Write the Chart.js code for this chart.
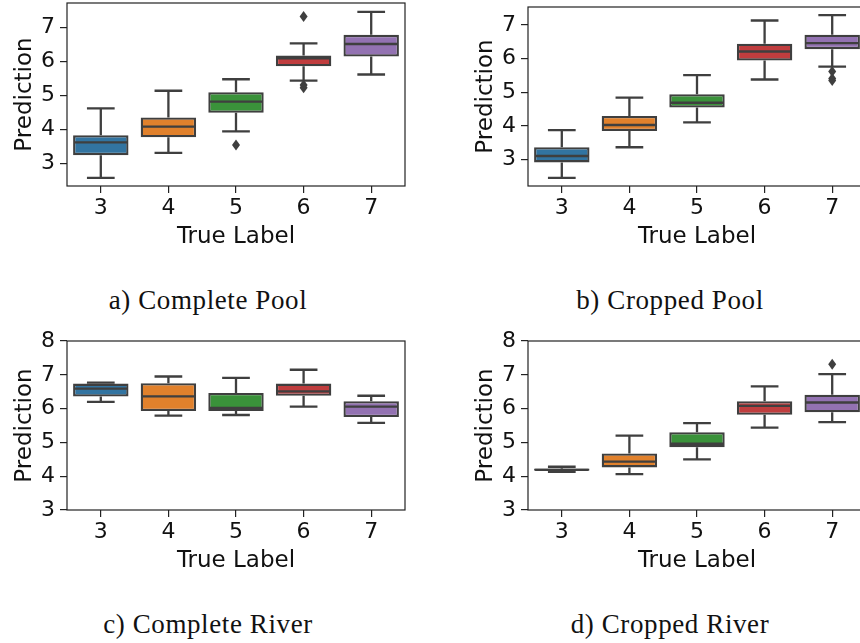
<!DOCTYPE html>
<html>
<head>
<meta charset="utf-8">
<script src="https://cdn.jsdelivr.net/npm/chart.js@4.4.1/dist/chart.umd.min.js"></script>
<style>
  html, body { margin: 0; padding: 0; background: #fff; }
  #page { position: relative; width: 860px; height: 643px; overflow: hidden; }
  #page canvas { position: absolute; }
  .cap {
    position: absolute; width: 320px; text-align: center;
    font-family: 'Liberation Serif', serif; font-size: 27px; line-height: 30px;
    letter-spacing: 0.6px; color: #111; white-space: nowrap;
  }
</style>
</head>
<body>
<div id="page">
  <canvas id="poolFull" width="420" height="260" style="left:0;top:0"></canvas>
  <canvas id="poolCrop" width="420" height="260" style="left:461px;top:0"></canvas>
  <canvas id="riverFull" width="420" height="264" style="left:0;top:320px"></canvas>
  <canvas id="riverCrop" width="420" height="264" style="left:461px;top:320px"></canvas>
  <div class="cap" style="left:48px;top:285px">a) Complete Pool</div>
  <div class="cap" style="left:510px;top:285px">b) Cropped Pool</div>
  <div class="cap" style="left:48px;top:609px">c) Complete River</div>
  <div class="cap" style="left:510px;top:609px">d) Cropped River</div>
</div>
<script>
const categories = ['3', '4', '5', '6', '7'];
const ticksPool = [3, 4, 5, 6, 7];
const ticksRiver = [3, 4, 5, 6, 7, 8];

// a) Complete Pool
const poolFullLow = [2.57, 3.31, 3.94, 5.44, 5.62];
const poolFullQ1 = [3.24, 3.77, 4.49, 5.86, 6.15];
const poolFullMed = [3.62, 4.08, 4.82, 6.10, 6.52];
const poolFullQ3 = [3.83, 4.35, 5.10, 6.18, 6.79];
const poolFullHigh = [4.62, 5.14, 5.48, 6.54, 7.47];
const poolFullOut = [[], [], [3.54], [7.33, 5.31, 5.23], []];

// b) Cropped Pool
const poolCropLow = [2.46, 3.37, 4.11, 5.38, 5.76];
const poolCropQ1 = [2.92, 3.85, 4.55, 5.94, 6.28];
const poolCropMed = [3.11, 4.03, 4.69, 6.21, 6.46];
const poolCropQ3 = [3.37, 4.30, 4.94, 6.44, 6.71];
const poolCropHigh = [3.88, 4.84, 5.51, 7.13, 7.29];
const poolCropOut = [[], [], [], [], [5.62, 5.41, 5.35]];

// c) Complete River
const riverFullLow = [6.20, 5.79, 5.81, 6.06, 5.58];
const riverFullQ1 = [6.36, 5.93, 5.93, 6.38, 5.75];
const riverFullMed = [6.59, 6.36, 6.02, 6.51, 6.06];
const riverFullQ3 = [6.74, 6.75, 6.46, 6.74, 6.22];
const riverFullHigh = [6.77, 6.95, 6.91, 7.15, 6.38];
const riverFullOut = [[], [], [], [], []];

// d) Cropped River
const riverCropLow = [4.13, 4.06, 4.50, 5.44, 5.60];
const riverCropQ1 = [4.16, 4.26, 4.86, 5.82, 5.89];
const riverCropMed = [4.19, 4.43, 4.96, 6.08, 6.18];
const riverCropQ3 = [4.23, 4.67, 5.30, 6.22, 6.41];
const riverCropHigh = [4.28, 5.20, 5.57, 6.66, 7.02];
const riverCropOut = [[], [], [], [], [7.31]];

const BOX_COLORS = ['#3274a1', '#e1812c', '#3a923a', '#c03d3e', '#9372b2'];
const LINE = '#3f3f3f';
const INK = '#111111';
const SANS = "'DejaVu Sans', sans-serif";

Chart.defaults.font.family = SANS;
Chart.defaults.color = INK;

// whiskers, caps, medians, outliers and the axes frame
function boxParts(s) {
  return {
    id: 'boxParts',
    afterDatasetsDraw(chart) {
      const { ctx, chartArea: a } = chart;
      const y = chart.scales.y;
      const meta = chart.getDatasetMeta(0);
      ctx.save();
      ctx.strokeStyle = LINE;
      ctx.fillStyle = LINE;
      ctx.lineWidth = 2.3;
      meta.data.forEach((bar, i) => {
        const cx = bar.x;
        const half = bar.width / 2;
        const cap = bar.width / 4;
        const pLow = y.getPixelForValue(s.low[i]);
        const pHigh = y.getPixelForValue(s.high[i]);
        const pQ1 = y.getPixelForValue(s.q1[i]);
        const pQ3 = y.getPixelForValue(s.q3[i]);
        const pMed = y.getPixelForValue(s.med[i]);
        ctx.beginPath();
        ctx.moveTo(cx, pQ3); ctx.lineTo(cx, pHigh);
        ctx.moveTo(cx, pQ1); ctx.lineTo(cx, pLow);
        ctx.moveTo(cx - cap, pHigh); ctx.lineTo(cx + cap, pHigh);
        ctx.moveTo(cx - cap, pLow); ctx.lineTo(cx + cap, pLow);
        ctx.moveTo(cx - half + 1, pMed); ctx.lineTo(cx + half - 1, pMed);
        ctx.stroke();
        s.out[i].forEach((v) => {
          const py = y.getPixelForValue(v);
          ctx.beginPath();
          ctx.moveTo(cx, py - 5.5);
          ctx.lineTo(cx + 4, py);
          ctx.lineTo(cx, py + 5.5);
          ctx.lineTo(cx - 4, py);
          ctx.closePath();
          ctx.fill();
        });
      });
      ctx.lineWidth = 1.2;
      ctx.strokeStyle = '#222';
      ctx.strokeRect(a.left, a.top, a.right - a.left, a.bottom - a.top);
      ctx.restore();
    },
  };
}

function createBoxPanel(id, s, yMin, yMax, yTicks, padTop) {
  const ctx = document.getElementById(id);
  return new Chart(ctx, {
    type: 'bar',
    data: {
      labels: categories,
      datasets: [
        {
          data: s.q1.map((v, i) => [v, s.q3[i]]),
          backgroundColor: BOX_COLORS,
          borderColor: LINE,
          borderWidth: 2.3,
          borderSkipped: false,
          barPercentage: 0.82,
          categoryPercentage: 1.0,
        },
      ],
    },
    options: {
      responsive: false,
      animation: false,
      devicePixelRatio: 1,
      layout: { padding: { top: padTop, right: 15, left: 0, bottom: 0 } },
      plugins: { legend: { display: false }, tooltip: { enabled: false } },
      scales: {
        x: {
          type: 'category',
          offset: true,
          afterFit: (sc) => { sc.height = 74; sc.paddingLeft = 0; sc.paddingRight = 0; },
          grid: { offset: false, drawOnChartArea: false, drawTicks: true, tickLength: 7, color: '#222', lineWidth: 1.2 },
          border: { display: false },
          ticks: { font: { size: 22 }, color: INK, padding: 2, maxRotation: 0 },
          title: { display: true, text: 'True Label', font: { size: 23 }, color: INK, padding: { top: 0, bottom: 9 } },
        },
        y: {
          type: 'linear',
          min: yMin,
          max: yMax,
          afterBuildTicks: (sc) => { sc.ticks = yTicks.map((v) => ({ value: v })); },
          afterFit: (sc) => { sc.width = 67; sc.paddingTop = 0; sc.paddingBottom = 0; },
          grid: { drawOnChartArea: false, drawTicks: true, tickLength: 7, color: '#222', lineWidth: 1.2 },
          border: { display: false },
          ticks: { font: { size: 22 }, color: INK, padding: 5 },
          title: { display: true, text: 'Prediction', font: { size: 23 }, color: INK, padding: { top: 11, bottom: 0 } },
        },
      },
    },
    plugins: [boxParts(s)],
  });
}

createBoxPanel('poolFull', {
  low: poolFullLow, q1: poolFullQ1, med: poolFullMed, q3: poolFullQ3, high: poolFullHigh, out: poolFullOut,
}, 2.33, 7.73, ticksPool, 3);

createBoxPanel('poolCrop', {
  low: poolCropLow, q1: poolCropQ1, med: poolCropMed, q3: poolCropQ3, high: poolCropHigh, out: poolCropOut,
}, 2.22, 7.53, ticksPool, 7);

createBoxPanel('riverFull', {
  low: riverFullLow, q1: riverFullQ1, med: riverFullMed, q3: riverFullQ3, high: riverFullHigh, out: riverFullOut,
}, 3, 8, ticksRiver, 21);

createBoxPanel('riverCrop', {
  low: riverCropLow, q1: riverCropQ1, med: riverCropMed, q3: riverCropQ3, high: riverCropHigh, out: riverCropOut,
}, 3, 8, ticksRiver, 21);
</script>
</body>
</html>
